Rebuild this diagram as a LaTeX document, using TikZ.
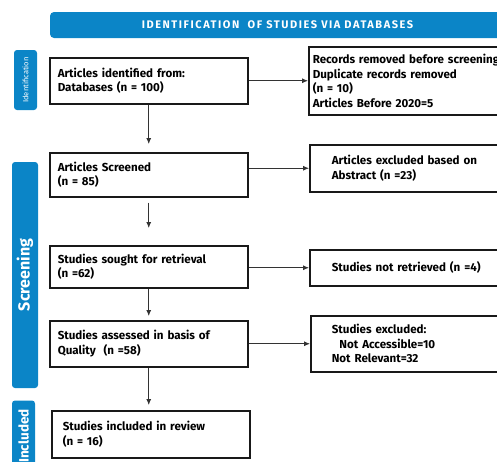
\documentclass[tikz,border=0pt]{standalone}
\usepackage{fontspec}
\setmainfont{Fira Sans}
\usetikzlibrary{arrows.meta}
\definecolor{prismablue}{HTML}{0B85C7}

\begin{document}
\begin{tikzpicture}[x=1pt, y=-1pt, font=\bfseries\fontsize{11.6}{14.5}\selectfont,
  box/.style={draw=black!90, line width=1.5pt, anchor=north west, align=left,
    text width=#1, inner xsep=8pt, inner ysep=2pt},
  rbox/.style={box=200pt, inner xsep=#1},
  phase/.style={fill=prismablue, rounded corners=3pt, text=white, rotate=90, inner sep=0pt},
  arr/.style={draw=black!80, line width=0.8pt, -{Latex[length=6pt, width=5pt]}}]
\useasboundingbox (0,0) rectangle (497,461);
\clip (0,0) rectangle (497,461);
% banner and phases
\node[phase, rotate=-90, rounded corners=4pt, minimum width=455pt, minimum height=26pt,
  font=\bfseries\fontsize{11}{12}\selectfont\addfontfeature{LetterSpace=14}] (banner) at (277.5,25)
  {IDENTIFICATION\ \ OF STUDIES VIA DATABASES};
\node[phase, minimum width=60pt, minimum height=23pt,
  font=\mdseries\fontsize{7.5}{9}\selectfont] (ident) at (25.5,80) {Identification};
\node[phase, minimum width=226pt, minimum height=26pt,
  font=\bfseries\fontsize{16}{18}\selectfont] (screen) at (25,275) {Screening};
\node[phase, minimum width=71pt, minimum height=23pt,
  font=\bfseries\fontsize{13.5}{15}\selectfont] (incl) at (23.5,436) {Included};
% main column
\node[box=182pt, minimum height=46pt] (b1) at (49,57) {Articles identified from:\\Databases (n = 100)};
\node[box=182pt, minimum height=44pt] (b2) at (49,152) {Articles Screened\\(n = 85)};
\node[box=182pt, minimum height=42pt] (b3) at (49,245) {Studies sought for retrieval\\(n =62)};
\node[box=182pt, minimum height=46pt] (b4) at (49,320) {Studies assessed in basis of\\Quality\ \ (n =58)};
\node[box=182pt, inner xsep=11pt, minimum height=47pt, text width=176pt] (b5) at (51,410)
  {Studies included in review\\(n = 16)};
% excluded column
\node[rbox=4pt, minimum height=68pt] (r1) at (308,46)
  {Records removed before screening\\Duplicate records removed\\(n = 10)\\Articles Before 2020=5};
\node[rbox=22pt, minimum height=47pt] (r2) at (309,144) {Articles excluded based on\\Abstract (n =23)};
\node[rbox=22pt, minimum height=36pt] (r3) at (309,249) {Studies not retrieved (n =4)};
\node[rbox=21pt, minimum height=56pt] (r4) at (310,315)
  {Studies excluded:\\\ \ Not Accessible=10\\Not Relevant=32};
% arrows
\draw[arr, shorten >=8pt] (b1.south) -- (b2.north);
\draw[arr, shorten <=5pt, shorten >=17pt] (b2.south) -- (b3.north);
\draw[arr, shorten >=4pt] (b3.south) -- (b4.north);
\draw[arr, shorten >=5pt] (b4.south) -- (b4.south |- b5.north);
\foreach \i in {1,...,4}
  \draw[arr] (b\i.east |- r\i.west) -- (r\i.west);
\end{tikzpicture}
\end{document}
